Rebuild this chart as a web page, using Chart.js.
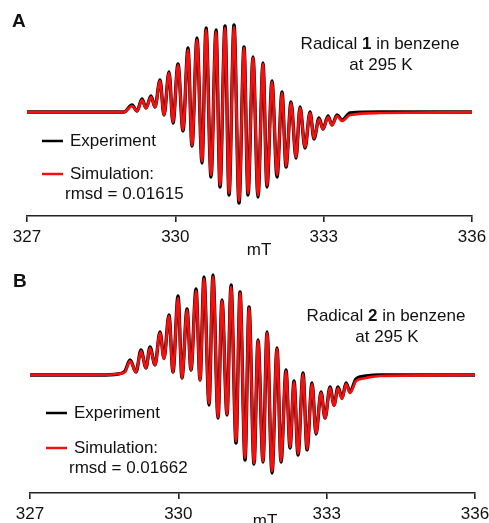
<!DOCTYPE html>
<html>
<head>
<meta charset="utf-8">
<script src="https://cdn.jsdelivr.net/npm/chart.js@4.4.0/dist/chart.umd.min.js"></script>
<style>
  html, body { margin: 0; padding: 0; background: #fff; }
  .panel { position: absolute; left: 0; width: 489px; }
  #panelA { top: 0; height: 260px; }
  #panelB { top: 262px; height: 261px; }
</style>
</head>
<body>
<div class="panel" id="panelA"><canvas id="chartA"></canvas></div>
<div class="panel" id="panelB"><canvas id="chartB"></canvas></div>
<script>
// Radical 1: magnetic field (mT) at each turning point of the spectrum, intensity in a.u.
const fieldA = [327.000, 328.477, 328.962, 329.124, 329.225, 329.326, 329.407, 329.508, 329.589, 329.690,
  329.771, 329.872, 329.953, 330.054, 330.155, 330.256, 330.337, 330.438, 330.540, 330.621,
  330.722, 330.823, 330.904, 331.005, 331.086, 331.187, 331.288, 331.389, 331.470, 331.571,
  331.672, 331.773, 331.854, 331.955, 332.057, 332.158, 332.239, 332.340, 332.441, 332.522,
  332.623, 332.724, 332.805, 332.906, 332.987, 333.088, 333.169, 333.270, 333.371, 333.533,
  334.140, 336.000];
const expA = [0, 0, 0, 7, 1, 13, 4, 16, 5, 32,
  -3, 40, -11, 48, -19, 64, -34, 74, -51, 84,
  -65, 82, -75, 86, -83, 87, -91, 65, -83, 55,
  -85, 49, -75, 31, -65, 20, -55, 10, -46, 5,
  -36, 0, -27, -6, -17, -4, -13, -3, -8, -1,
  0, 0];
const simA = [0, 0, 0, 6, 1, 12, 4, 15, 5, 31,
  -3, 39, -10, 47, -18, 62, -33, 72, -49, 82,
  -63, 80, -73, 84, -81, 85, -89, 64, -81, 54,
  -83, 48, -73, 30, -63, 19, -54, 9, -45, 4,
  -35, -1, -26, -7, -17, -5, -13, -4, -9, -3,
  -1, 0];

// Radical 2
const fieldB = [327.000, 328.416, 328.780, 328.922, 329.023, 329.144, 329.245, 329.346, 329.427, 329.528,
  329.629, 329.710, 329.811, 329.892, 329.994, 330.074, 330.176, 330.256, 330.358, 330.439,
  330.519, 330.621, 330.701, 330.803, 330.883, 330.985, 331.066, 331.167, 331.248, 331.349,
  331.430, 331.531, 331.612, 331.713, 331.794, 331.895, 331.996, 332.077, 332.178, 332.259,
  332.340, 332.421, 332.522, 332.603, 332.704, 332.785, 332.886, 332.967, 333.068, 333.149,
  333.230, 333.311, 333.392, 333.472, 333.594, 333.796, 334.079, 336.000];
const expB = [0, 0, 1, 4, 15, 3, 25, 7, 28, 10,
  43, 17, 60, 3, 79, -3, 66, 5, 86, -5,
  98, -30, 100, -43, 75, -40, 90, -68, 83, -85,
  68, -89, 35, -87, 43, -98, 27, -87, 5, -73,
  -6, -80, 2, -75, -8, -59, -17, -43, -12, -30,
  -12, -23, -8, -17, -4, -1, 0, 0];
const simB = [0, 0, 1, 3, 14, 3, 24, 7, 27, 10,
  42, 16, 59, 3, 77, -3, 65, 5, 84, -5,
  96, -28, 98, -42, 74, -39, 88, -66, 82, -83,
  67, -88, 34, -86, 42, -96, 26, -86, 4, -72,
  -7, -79, 1, -74, -9, -58, -18, -43, -13, -31,
  -13, -24, -9, -18, -6, -3, -1, 0];

const xTicks = [327, 330, 333, 336];
const seriesNames = ['Experiment', 'Simulation:'];
const rmsdA = '0.01615';
const rmsdB = '0.01662';

const FONT = '"Liberation Sans", Arial, sans-serif';
const INK = '#111';

function toPoints(xs, ys) {
  return xs.map((x, i) => ({ x, y: ys[i] }));
}

// writes a line of text where some runs are bold, centred on cx
function mixedText(ctx, runs, cx, y, size) {
  let total = 0;
  runs.forEach(r => {
    ctx.font = (r.bold ? 'bold ' : '') + size + 'px ' + FONT;
    r.w = ctx.measureText(r.text).width;
    total += r.w;
  });
  let x = cx - total / 2;
  ctx.textAlign = 'left';
  runs.forEach(r => {
    ctx.font = (r.bold ? 'bold ' : '') + size + 'px ' + FONT;
    ctx.fillText(r.text, x, y);
    x += r.w;
  });
}

const annotate = {
  id: 'annotate',
  afterDraw(chart, args, o) {
    const ctx = chart.ctx;
    ctx.save();
    ctx.fillStyle = INK;
    ctx.textBaseline = 'middle';

    ctx.font = 'bold 19px ' + FONT;
    ctx.textAlign = 'left';
    ctx.fillText(o.letter, o.letterPos[0], o.letterPos[1]);

    mixedText(ctx, [{ text: 'Radical ' }, { text: o.num, bold: true }, { text: ' in benzene' }],
      o.titlePos[0], o.titlePos[1], 17);
    ctx.font = '17px ' + FONT;
    ctx.textAlign = 'center';
    ctx.fillText('at 295 K', o.titlePos[0] + 1, o.titlePos[1] + 21);

    // legend: one short line per dataset, in the order they are listed
    const [lx, ly] = o.legendPos;
    ctx.textAlign = 'left';
    chart.data.datasets.forEach((ds, i) => {
      const y = ly + i * o.legendGap;
      ctx.strokeStyle = ds.borderColor;
      ctx.lineWidth = 2.5;
      ctx.beginPath();
      ctx.moveTo(lx, y);
      ctx.lineTo(lx + 21, y);
      ctx.stroke();
      ctx.fillText(ds.label, lx + 28, y);
    });
    ctx.fillText('rmsd = ' + o.rmsd, lx + 23, ly + o.legendGap + 20);

    ctx.textAlign = 'center';
    ctx.fillText('mT', o.unitPos[0], o.unitPos[1]);
    ctx.restore();
  }
};

function makeChart(id, xs, exp, sim, yMin, yMax, pad, axisH, notes) {
  return new Chart(document.getElementById(id), {
    type: 'line',
    data: {
      datasets: [
        { label: seriesNames[0], data: toPoints(xs, exp), borderColor: '#000', borderWidth: 3.4, order: 2 },
        { label: seriesNames[1], data: toPoints(xs, sim), borderColor: '#f51010', borderWidth: 2.7, order: 1 }
      ]
    },
    options: {
      responsive: true,
      maintainAspectRatio: false,
      animation: false,
      layout: { padding: pad },
      elements: {
        point: { radius: 0 },
        line: { cubicInterpolationMode: 'monotone', fill: false }
      },
      scales: {
        x: {
          type: 'linear',
          min: 327,
          max: 336,
          afterBuildTicks: s => { s.ticks = xTicks.map(v => ({ value: v })); },
          afterFit: s => { s.height = axisH; s.paddingLeft = 0; s.paddingRight = 0; },
          border: { display: true, color: '#222', width: 1.6 },
          grid: { drawOnChartArea: false, drawTicks: true, tickLength: 6, color: '#222', lineWidth: 1.6 },
          ticks: { color: INK, font: { family: FONT, size: 17 }, padding: 5, maxRotation: 0 }
        },
        y: { display: false, min: yMin, max: yMax }
      },
      plugins: {
        legend: { display: false },
        tooltip: { enabled: false },
        annotate: notes
      }
    },
    plugins: [annotate]
  });
}

makeChart('chartA', fieldA, expA, simA, -104, 102,
  { left: 27, right: 17, top: 10, bottom: 0 }, 44,
  { letter: 'A', num: '1', rmsd: rmsdA, letterPos: [12, 22], titlePos: [380, 44],
    legendPos: [42, 141], legendGap: 33, unitPos: [259, 250] });

makeChart('chartB', fieldB, expB, simB, -118, 105,
  { left: 30, right: 14, top: 8, bottom: 0 }, 30,
  { letter: 'B', num: '2', rmsd: rmsdB, letterPos: [13, 20], titlePos: [386, 54],
    legendPos: [46, 151], legendGap: 35, unitPos: [265, 259] });
</script>
</body>
</html>
